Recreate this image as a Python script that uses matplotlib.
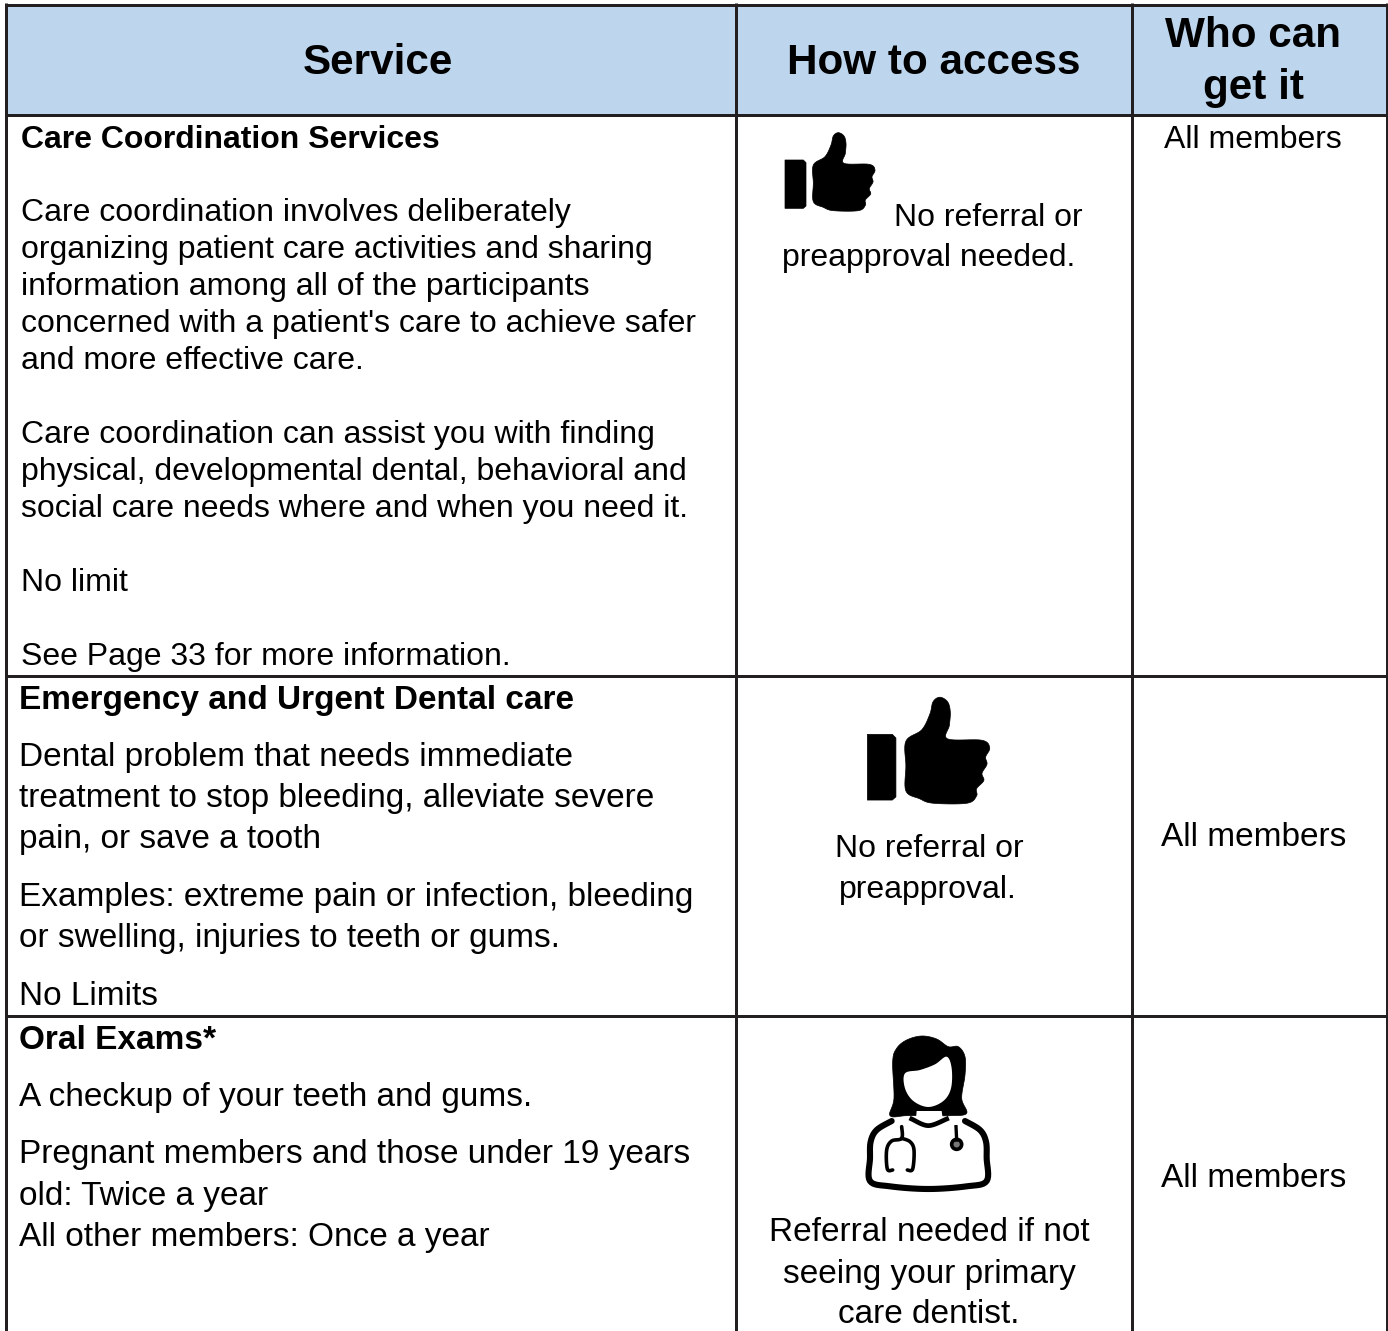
import matplotlib
matplotlib.use("Agg")
import matplotlib.pyplot as plt
from matplotlib.patches import Polygon, Ellipse, Rectangle
import numpy as np

plt.rcParams["font.family"] = ["Liberation Sans", "DejaVu Sans"]

headers = ["Service", "How to access"]
who_header = ["Who can", "get it"]
who_text = "All members"

care_title = "Care Coordination Services"
care_lines = ["", "Care coordination involves deliberately",
              "organizing patient care activities and sharing",
              "information among all of the participants",
              "concerned with a patient's care to achieve safer",
              "and more effective care.", "",
              "Care coordination can assist you with finding",
              "physical, developmental dental, behavioral and",
              "social care needs where and when you need it.", "",
              "No limit", "",
              "See Page 33 for more information."]
emergency_title = "Emergency and Urgent Dental care"
emergency_lines = ["Dental problem that needs immediate",
                   "treatment to stop bleeding, alleviate severe",
                   "pain, or save a tooth",
                   "Examples: extreme pain or infection, bleeding",
                   "or swelling, injuries to teeth or gums.",
                   "No Limits"]
emergency_y = [766, 807, 848, 906, 947, 1005]
oral_title = "Oral Exams*"
oral_lines = ["A checkup of your teeth and gums.",
              "Pregnant members and those under 19 years",
              "old: Twice a year",
              "All other members: Once a year"]
oral_y = [1106, 1163, 1205, 1246]

access_1 = ["No referral or", "preapproval needed."]
access_2 = ["No referral or", "preapproval."]
access_3 = ["Referral needed if not", "seeing your primary", "care dentist."]

LINE = "#231f20"
HEAD = "#bdd6ee"
PX = 0.72

fig = plt.figure(figsize=(13.88, 13.31), dpi=100)
ax = fig.add_axes([0, 0, 1, 1])
ax.set_xlim(0, 1388)
ax.set_ylim(1331, 0)
ax.axis("off")

ax.add_patch(Rectangle((6, 4), 1381, 111, fc=HEAD, ec="none"))
for x in [6.5, 736.5, 1132.5, 1387]:
    ax.plot([x, x], [3, 1331], color=LINE, lw=3 * PX, solid_capstyle="butt")
for y in [4.5, 115, 675.5, 1016]:
    ax.plot([5, 1388], [y, y], color=LINE, lw=3 * PX, solid_capstyle="butt")


def txt(x, y, s, size=24, weight="normal", ha="left"):
    ax.text(x, y, s, fontsize=size, fontweight=weight, ha=ha, va="baseline", color="black")


txt(378, 74, headers[0], 30.4, "bold", "center")
txt(934, 74, headers[1], 30.4, "bold", "center")
txt(1253, 47, who_header[0], 30.4, "bold", "center")
txt(1254, 99, who_header[1], 30.4, "bold", "center")

txt(21, 148, care_title, 23, "bold")
for i, line in enumerate(care_lines):
    txt(21, 184 + 37 * i, line, 23)
txt(19, 709, emergency_title, 24, "bold")
for line, y in zip(emergency_lines, emergency_y):
    txt(19, y, line)
txt(19, 1049, oral_title, 24, "bold")
for line, y in zip(oral_lines, oral_y):
    txt(19, y, line)

txt(894, 226, access_1[0], 23)
txt(928.5, 266, access_1[1], 23, ha="center")
txt(929, 857, access_2[0], 23, ha="center")
txt(928, 898, access_2[1], 23, ha="center")
for line, y in zip(access_3, [1241, 1283, 1323]):
    txt(929, y, line, ha="center")

txt(1253, 148, who_text, 23, ha="center")
txt(1253.5, 846, who_text, ha="center")
txt(1253.5, 1187, who_text, ha="center")


def smooth(pts, closed=True, n=8):
    # catmull-rom through the traced points
    p = np.array(pts, dtype=float)
    m = len(p)
    out = []
    stop = m if closed else m - 1
    for i in range(stop):
        if closed:
            a, b, c, d = p[(i - 1) % m], p[i], p[(i + 1) % m], p[(i + 2) % m]
        else:
            a, b, c, d = p[max(i - 1, 0)], p[i], p[i + 1], p[min(i + 2, m - 1)]
        for t in np.linspace(0, 1, n, endpoint=False):
            out.append(0.5 * (2 * b + (c - a) * t + (2 * a - 5 * b + 4 * c - d) * t ** 2
                              + (3 * b - a - 3 * c + d) * t ** 3))
    if not closed:
        out.append(p[-1])
    return np.array(out)


# thumb icon, outline traced in zoom units
thumb_bar = [(45, 120), (100, 120), (108, 128), (108, 258), (100, 265), (45, 265)]
thumb_hand = [(130, 135), (165, 110), (183, 75), (190, 48), (205, 38), (222, 48), (228, 70),
              (226, 100), (222, 130), (298, 133), (315, 150), (306, 170), (309, 186),
              (298, 206), (302, 222), (286, 240), (286, 256), (265, 272), (190, 272),
              (160, 262), (130, 245), (130, 190)]


def thumb(x0, y0, k):
    bar = np.array(thumb_bar) * k + [x0, y0]
    ax.add_patch(Polygon(bar, closed=True, fc="black", ec="black", lw=0.5, joinstyle="round"))
    hand = smooth(thumb_hand) * k + [x0, y0]
    ax.add_patch(Polygon(hand, closed=True, fc="black", ec="black", lw=0.5))


thumb(770, 120, 1 / 3)
thumb(847, 680, 0.453)

# doctor icon
ox, oy, k = 850, 1025, 1 / 3


def pt(p, closed=False):
    return smooth(p, closed) * k + [ox, oy]


hair = [(128, 110), (140, 70), (170, 45), (215, 33), (260, 42), (295, 65), (325, 65), (345, 95),
        (345, 150), (335, 220), (350, 265), (300, 272), (240, 272), (170, 272), (120, 272), (132, 220)]
ax.add_patch(Polygon(pt(hair, True), closed=True, fc="black", ec="black", lw=0.5))
face = [(165, 145), (210, 135), (255, 118), (290, 95), (305, 130), (303, 190), (280, 228), (235, 246),
        (190, 228), (165, 190)]
ax.add_patch(Polygon(pt(face, True), closed=True, fc="white", ec="none"))
ax.add_patch(Polygon(np.array([(200, 258), (275, 258), (278, 280), (240, 288), (198, 280)]) * k + [ox, oy],
                     closed=True, fc="white", ec="none"))
body = [(125, 288), (80, 315), (62, 350), (60, 400), (60, 468), (120, 484), (235, 492), (350, 484),
        (410, 468), (410, 400), (408, 350), (390, 315), (345, 288)]
ax.plot(*pt(body).T, color="black", lw=4.4, solid_capstyle="round")
neck = [(185, 282), (235, 302), (290, 282)]
ax.plot(*pt(neck).T, color="black", lw=3.4)
scope = [(155, 305), (155, 340), (125, 348), (110, 375), (112, 432), (128, 435)]
ax.plot(*pt(scope).T, color="black", lw=2.6, solid_capstyle="round")
scope2 = [(155, 340), (180, 350), (192, 375), (188, 432), (172, 435)]
ax.plot(*pt(scope2).T, color="black", lw=2.6, solid_capstyle="round")
ax.plot(*pt([(318, 305), (320, 345)]).T, color="black", lw=2.4)
ax.add_patch(Ellipse((ox + 320 * k, oy + 358 * k), 10, 10, fc="#777777", ec="black", lw=2.6))

fig.savefig("out.png", dpi=100)
